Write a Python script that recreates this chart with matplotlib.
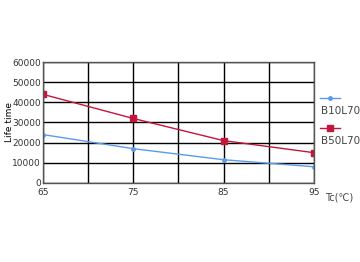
import matplotlib.pyplot as plt
from matplotlib.lines import Line2D

tc = [65, 75, 85, 95]
b10l70 = [24000, 17000, 11500, 8000]
b50l70 = [44000, 32000, 21000, 15000]
labels = ['B10L70', 'B50L70']
colors = ['#5b9bef', '#c4163a']
markers = ['.', 's']
msizes = [5, 4.5]

fig = plt.figure(figsize=(3.6, 2.62), dpi=100)
ax = fig.add_axes([0.119, 0.302, 0.753, 0.461])

ax.plot(tc, b10l70, color=colors[0], marker=markers[0], markersize=msizes[0], linewidth=1)
ax.plot(tc, b50l70, color=colors[1], marker=markers[1], markersize=msizes[1], linewidth=1)

ax.set_xlim(65, 95)
ax.set_ylim(0, 60000)
ax.set_xticks([65, 75, 85, 95])
ax.set_xticks([70, 80, 90], minor=True)
ax.set_yticks(range(0, 60001, 10000))
ax.grid(True, which='both', color='black', linewidth=1)
ax.tick_params(which='both', length=0, labelsize=6.5, colors='#333333')
ax.tick_params(axis='y', pad=1.5)
ax.tick_params(axis='x', pad=3.5)
for lbl in ax.get_yticklabels():
    lbl.set_verticalalignment('center_baseline')
for s in ax.spines.values():
    s.set_color('#555555')
    s.set_linewidth(1)

fig.text(0.025, 0.535, 'Life time', fontsize=6.5, rotation=90, ha='center', va='center')
fig.text(0.903, 0.245, 'Tc(\u2103)', fontsize=7, color='#444444', va='center')

# legend: line sample above its label
for i, (lab, y) in enumerate(zip(labels, [0.626, 0.511])):
    fig.add_artist(Line2D([0.89, 0.945], [y, y], transform=fig.transFigure,
                          color=colors[i], linewidth=1))
    fig.add_artist(Line2D([0.9175], [y], transform=fig.transFigure,
                          color=colors[i], marker=markers[i],
                          markersize=msizes[i]))
    fig.text(0.893, y - 0.05, lab, fontsize=7.5, color='#444444', va='center')

plt.savefig('out.png')
